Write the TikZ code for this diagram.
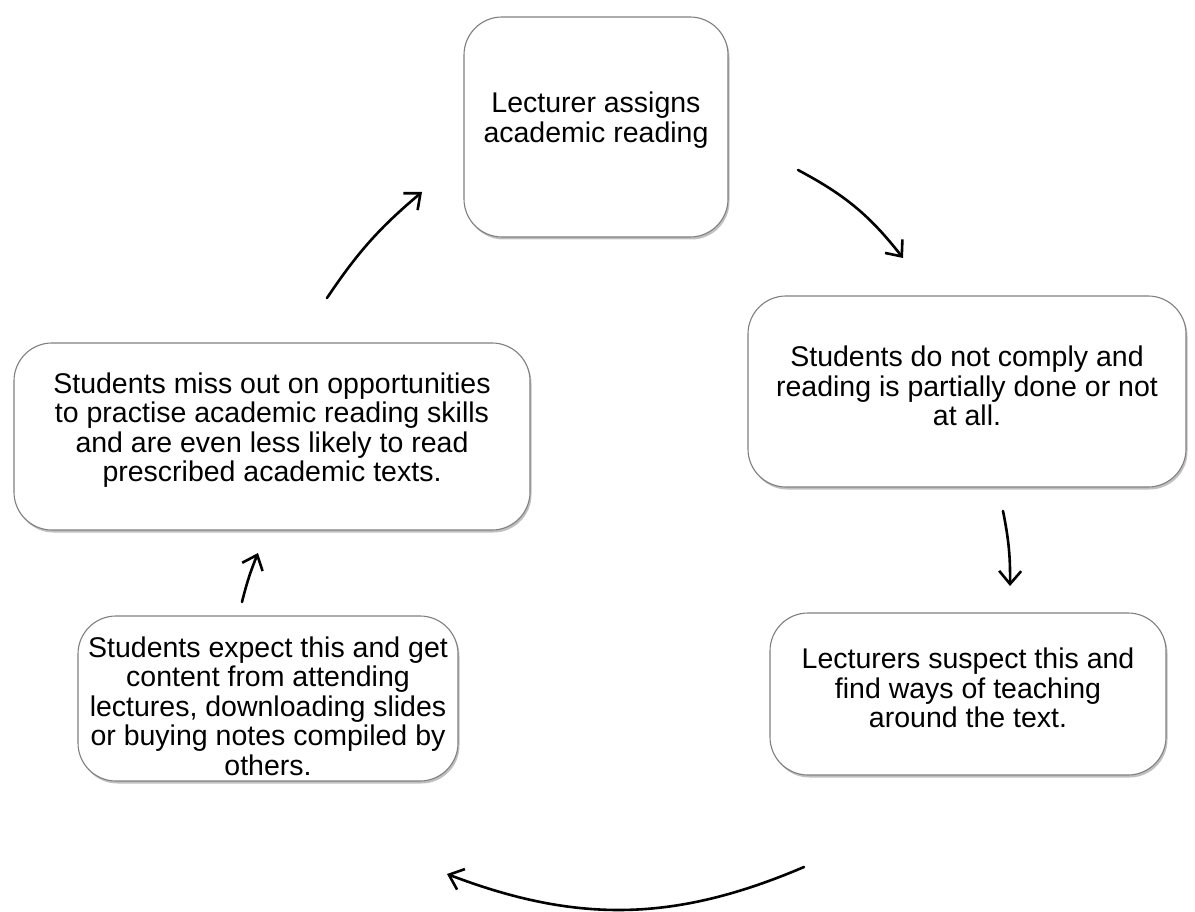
\documentclass[tikz,border=0pt]{standalone}
\usepackage{fontspec}
\setmainfont{Liberation Sans}
\usetikzlibrary{arrows.meta,shadows}
\begin{document}
\begin{tikzpicture}[x=1pt,y=-1pt,
  cyclebox/.style={draw=black!50, line width=1.1pt, fill=white, rounded corners=38pt,
     align=center, inner sep=0pt,
     drop shadow={shadow xshift=1.5pt, shadow yshift=-2.5pt, opacity=0.35, fill=black!70},
     font=\fontsize{28.5}{29.5}\selectfont},
  boxtext/.style={align=center, inner sep=0pt, font=\fontsize{28.5}{29.5}\selectfont},
  cyclearrow/.style={line width=2.6pt, line cap=round, -{Straight Barb[length=13pt,width=22pt,line width=2.6pt]}}
]
\useasboundingbox (0,0) rectangle (1195,912);
\fill[white] (0,0) rectangle (1195,912);

\node[cyclebox, minimum width=264pt, minimum height=220pt] (top) at (596,127) {};
\node[boxtext] (toptext) at (596,120) {Lecturer assigns\\academic reading};
\node[cyclebox, minimum width=438pt, minimum height=191pt] (right) at (967,391.5) {};
\node[boxtext] (righttext) at (967,386)
  {Students do not comply and\\reading is partially done or not\\at all.};
\node[cyclebox, minimum width=396pt, minimum height=162pt] (lr) at (968,694) {};
\node[boxtext] (lrtext) at (968,688)
  {Lecturers suspect this and\\find ways of teaching\\around the text.};
\node[cyclebox, minimum width=380pt, minimum height=165pt] (ll) at (268,698.5) {};
\node[boxtext] (lltext) at (268,706)
  {Students expect this and get\\content from attending\\lectures, downloading slides\\or buying notes compiled by\\others.};
\node[cyclebox, minimum width=516pt, minimum height=187pt] (left) at (272,436.5) {};
\node[boxtext] (lefttext) at (272,430)
  {Students miss out on opportunities\\to practise academic reading skills\\and are even less likely to read\\prescribed academic texts.};

\coordinate (a1s) at (798,170);
\coordinate (a1e) at (903,258);
\coordinate (a2s) at (1003,511);
\coordinate (a2e) at (1010,586);
\coordinate (a3s) at (804,867);
\coordinate (a3e) at (447,874);
\coordinate (a4s) at (242,602);
\coordinate (a4e) at (258,553);
\coordinate (a5s) at (327,298);
\coordinate (a5e) at (422,192);

\draw[cyclearrow] (a1s) to[bend left=12] (a1e);
\draw[cyclearrow] (a2s) to[bend left=6] (a2e);
\draw[cyclearrow] (a3s) to[bend left=22] (a3e);
\draw[cyclearrow] (a4s) to[bend left=4] (a4e);
\draw[cyclearrow] (a5s) to[bend left=8] (a5e);
\end{tikzpicture}
\end{document}
